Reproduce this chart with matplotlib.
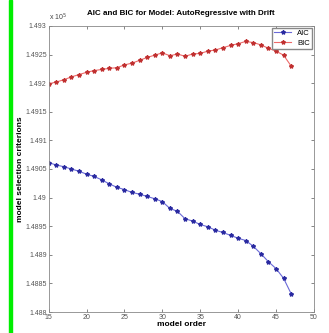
import matplotlib
matplotlib.use("Agg")
import matplotlib.pyplot as plt
from matplotlib.ticker import FuncFormatter, MultipleLocator
plt.rcParams["font.family"] = "Liberation Sans"

order = list(range(15, 48))
aic = [149061, 149057, 149054, 149050, 149046, 149041, 149037, 149031, 149024, 149018,
       149014, 149009, 149006, 149002, 148998, 148993, 148981, 148976, 148963, 148959,
       148953, 148949, 148943, 148939, 148934, 148929, 148925, 148915, 148902, 148888,
       148876, 148859, 148832]
bic = [149199, 149202, 149206, 149211, 149215, 149219, 149222, 149224, 149226, 149227,
       149232, 149235, 149240, 149245, 149249, 149253, 149248, 149251, 149247, 149251,
       149252, 149256, 149258, 149262, 149266, 149269, 149273, 149271, 149267, 149261,
       149256, 149249, 149230]

fig = plt.figure(figsize=(3.29, 3.33), dpi=100)
fig.patches.append(plt.Rectangle((9 / 329, 0), 3 / 329, 1, transform=fig.transFigure,
                                 color="#00ee00", zorder=10))
ax = fig.add_axes([0.148, 0.063, 0.806, 0.859])
ax.plot(order, aic, "-*", color="#6a6ad8", lw=0.8, ms=3, mec="#2a2aa0", mfc="#2a2aa0",
        label="AIC")
ax.plot(order, bic, "-*", color="#ee6a6a", lw=0.8, ms=3, mec="#c03030", mfc="#c03030",
        label="BIC")
ax.set_xlim(15, 50)
ax.set_ylim(148800, 149300)
ax.xaxis.set_major_locator(MultipleLocator(5))
ax.yaxis.set_major_locator(MultipleLocator(50))
ax.yaxis.set_major_formatter(FuncFormatter(lambda v, p: "%g" % round(v / 1e5, 5)))
ax.tick_params(direction="in", top=True, right=True, labelsize=5, length=2.5,
               width=0.5, colors="#555555", pad=1.5)
for s in ax.spines.values():
    s.set_linewidth(0.6)
    s.set_color("#888888")
ax.text(0.0, 1.01, "x 10$^5$", transform=ax.transAxes, fontsize=5, color="#444444",
        ha="left", va="bottom")
ax.set_title("AIC and BIC for Model: AutoRegressive with Drift", fontsize=5.8,
             fontweight="bold", pad=8)
ax.set_xlabel("model order", fontsize=6, fontweight="bold", labelpad=0)
ax.set_ylabel("model selection criterions", fontsize=6, fontweight="bold")
ax.yaxis.set_label_coords(-0.095, 0.5)
ax.legend(loc="upper right", fontsize=5.5, borderaxespad=0.2, handlelength=2.2,
          fancybox=False, edgecolor="#888888", framealpha=1, borderpad=0.3,
          labelspacing=0.3)
fig.savefig("out.png", dpi=100)
